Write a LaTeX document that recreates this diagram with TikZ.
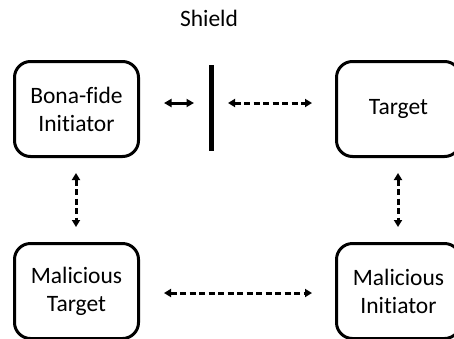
\documentclass[tikz,border=0pt]{standalone}
\usepackage{fontspec}
\setmainfont{Carlito}[RawFeature={-liga}]
\usetikzlibrary{arrows.meta}
\begin{document}
\begin{tikzpicture}[x=1pt,y=-1pt,
  party/.style={draw, line width=3pt, rounded corners=16pt,
    minimum width=124pt, minimum height=95pt, align=center,
    font=\fontsize{23.5}{28}\selectfont, inner sep=0pt},
  link/.style={line width=3pt, dash pattern=on 6pt off 3.5pt,
    {Triangle[length=7pt,width=8pt]}-{Triangle[length=7pt,width=8pt]}},
  shortlink/.style={line width=3pt,
    {Triangle[length=7.5pt,width=8pt]}-{Triangle[length=7.5pt,width=8pt]}}]
\useasboundingbox (0,0) rectangle (454,338);
\clip (0,0) rectangle (454,338);

% the four parties
\node[party] (bona)   at (76.5,109)  {Bona-fide\\Initiator};
\node[party] (target) at (398.5,109) {Target};
\node[party] (mtgt)   at (76.5,291)  {Malicious\\Target};
\node[party] (minit)  at (398.5,291) {Malicious\\Initiator};

% the shield between initiator and target
\node[fill=black, minimum width=5pt, minimum height=86pt, inner sep=0pt]
  (shield) at (211,108) {};
\node[font=\fontsize{23.5}{28}\selectfont] (shieldlabel) at (209,18) {Shield};

% end points of the arrows
\coordinate (a1) at (164,103);
\coordinate (a2) at (194,103);
\coordinate (b1) at (228,103);
\coordinate (b2) at (312,103);
\coordinate (c1) at (76,173);
\coordinate (c2) at (76,227);
\coordinate (d1) at (398,173);
\coordinate (d2) at (398,227);
\coordinate (e1) at (164,293);
\coordinate (e2) at (312,293);

\draw[shortlink] (a1) -- (a2);
\draw[link] (b1) -- (b2);
\draw[link] (c1) -- (c2);
\draw[link] (d1) -- (d2);
\draw[link] (e1) -- (e2);
\end{tikzpicture}
\end{document}
